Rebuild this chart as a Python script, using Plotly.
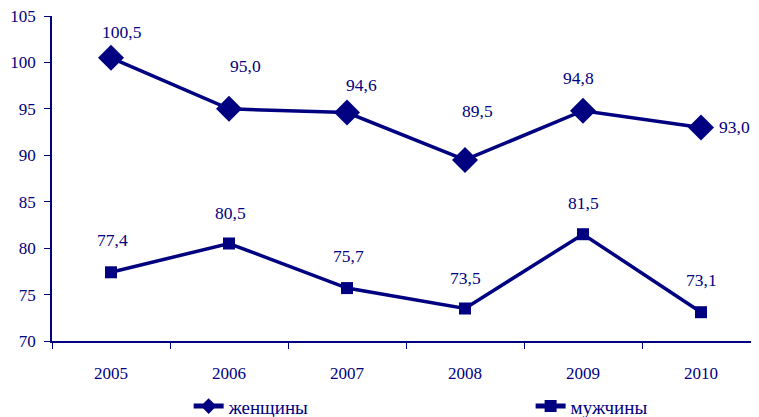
import plotly.graph_objects as go

years = ["2005", "2006", "2007", "2008", "2009", "2010"]
women = [100.5, 95.0, 94.6, 89.5, 94.8, 93.0]
men = [77.4, 80.5, 75.7, 73.5, 81.5, 73.1]

# label offsets (px) so the values sit where the original put them
women_shift = [(11, 26), (16, 43), (14, 28), (12, 49), (-5, 33), (33, 0)]
men_shift = [(1, 32), (1, 31), (1, 32), (0, 31), (0, 31), (0, 32)]

navy = "#000080"
font = "Liberation Serif, Times New Roman, serif"

fig = go.Figure()
fig.add_trace(go.Scatter(x=years, y=women, name="женщины", mode="lines+markers",
                         line=dict(color=navy, width=3.5),
                         marker=dict(symbol="diamond", size=20, color=navy),
                         legend="legend"))
fig.add_trace(go.Scatter(x=years, y=men, name="мужчины", mode="lines+markers",
                         line=dict(color=navy, width=3.5),
                         marker=dict(symbol="square", size=12, color=navy),
                         legend="legend2"))

def fmt(v):
    return f"{v:.1f}".replace(".", ",")

# category axis: refer to points by index, "2005" would be read as a number
for vals, shifts in [(women, women_shift), (men, men_shift)]:
    for i, (v, (dx, dy)) in enumerate(zip(vals, shifts)):
        fig.add_annotation(x=i, y=v, text=fmt(v), showarrow=False,
                           xshift=dx, yshift=dy,
                           font=dict(family=font, size=17.5, color=navy))

leg = dict(orientation="h", yref="container", y=0.045, yanchor="middle",
           xanchor="left", bgcolor="rgba(0,0,0,0)", itemsizing="constant",
           font=dict(family=font, size=19, color=navy))

# page body has an 8px margin, so the margins below are 8px smaller
fig.update_layout(
    width=759, height=417,
    margin=dict(l=44, r=7, t=8, b=84),
    paper_bgcolor="white", plot_bgcolor="white",
    font=dict(family=font, size=17, color=navy),
    showlegend=True,
    legend=dict(leg, x=0.193),
    legend2=dict(leg, x=0.676),
)
fig.update_xaxes(type="category", range=[-0.5, 5.5], showline=True, linecolor=navy,
                 linewidth=1.5, ticks="outside", tickson="boundaries", ticklen=6,
                 tickcolor=navy, showgrid=False, zeroline=False, ticklabelstandoff=16,
                 automargin=False, tickfont=dict(family=font, size=17, color=navy))
fig.update_yaxes(range=[70, 105], dtick=5, showline=True, linecolor=navy, linewidth=1.5,
                 ticks="outside", ticklen=6, tickcolor=navy, showgrid=False,
                 zeroline=False, ticklabelstandoff=5, automargin=False,
                 ticklabeloverflow="allow",
                 tickfont=dict(family=font, size=17, color=navy))

fig.write_html("out.html")
